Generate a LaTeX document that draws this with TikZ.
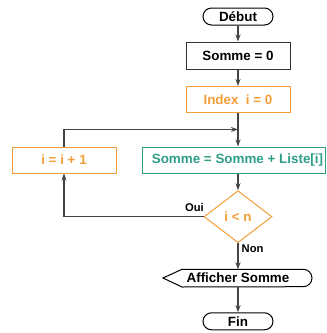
\documentclass[tikz,border=0pt]{standalone}
\usepackage{fontspec}
\setmainfont{Liberation Sans}
\usetikzlibrary{shapes.geometric,arrows.meta}
\definecolor{lineg}{HTML}{444444}
\definecolor{orng}{HTML}{F39C38}
\definecolor{teal2}{HTML}{2E9E86}
\tikzset{
  every node/.style={font=\fontsize{13.4}{15}\selectfont\bfseries, inner sep=0pt},
  arr/.style={draw=lineg, line width=1.2pt, -{Stealth[length=7pt,width=5pt]}},
  term/.style={draw=black, line width=1pt, rounded corners=8.5pt, minimum width=70pt, minimum height=17pt},
  procbox/.style={draw=black!80, line width=1pt, minimum height=27pt},
  obox/.style={draw=orng, line width=1pt, text=orng, minimum height=26pt},
  tbox/.style={draw=teal2, line width=1pt, text=teal2, minimum height=26pt},
  lbl/.style={font=\fontsize{11.2}{13}\selectfont\bfseries}
}
\begin{document}
\begin{tikzpicture}[x=1pt,y=-1pt]
\useasboundingbox (0,0) rectangle (327,333);
\node[term] (deb) at (238,16.5) {Début};
\node[procbox, minimum width=104pt] (s0) at (238,55.5) {Somme = 0};
\node[obox, minimum width=104pt] (idx) at (238,99.5) {Index\ \ i = 0};
\node[obox, minimum width=104pt] (inc) at (64,160) {i = i + 1};
\node[tbox, minimum width=183pt] (sum) at (233.5,160) {};
\node[text=teal2] (sumt) at (237.5,160) {Somme = Somme + Liste[i]};
\node[diamond, draw=orng, line width=1pt, text=orng, minimum width=68pt, minimum height=52pt] (dec) at (238,216.7) {i < n};
\node (aff) at (238,278) {Afficher Somme};
\node[term] (fin) at (238,321.3) {Fin};
\coordinate (afftop) at (238,269.3);
\coordinate (join) at (238,129.5);
\draw[line width=1pt, black] (163,278) -- (182,269.3) -- (303.3,269.3) arc[start angle=-90, end angle=90, radius=8.7] -- (182,287) -- cycle;
\draw[arr] (deb) -- (s0);
\draw[arr] (s0) -- (idx);
\draw[arr] (idx.south) -- (idx.south |- sum.north);
\draw[arr] (inc.north) |- (join);
\draw[arr] (idx.south |- sum.south) -- (dec.north);
\draw[arr] (dec.west) -| (inc.south);
\draw[arr] (dec.south) -- (afftop);
\draw[arr] (afftop |- 0,287) -- (fin.north);
\node[lbl, anchor=south east] (oui) at (204,212) {Oui};
\node[lbl, anchor=west] (non) at (241.5,249) {Non};
\end{tikzpicture}
\end{document}
